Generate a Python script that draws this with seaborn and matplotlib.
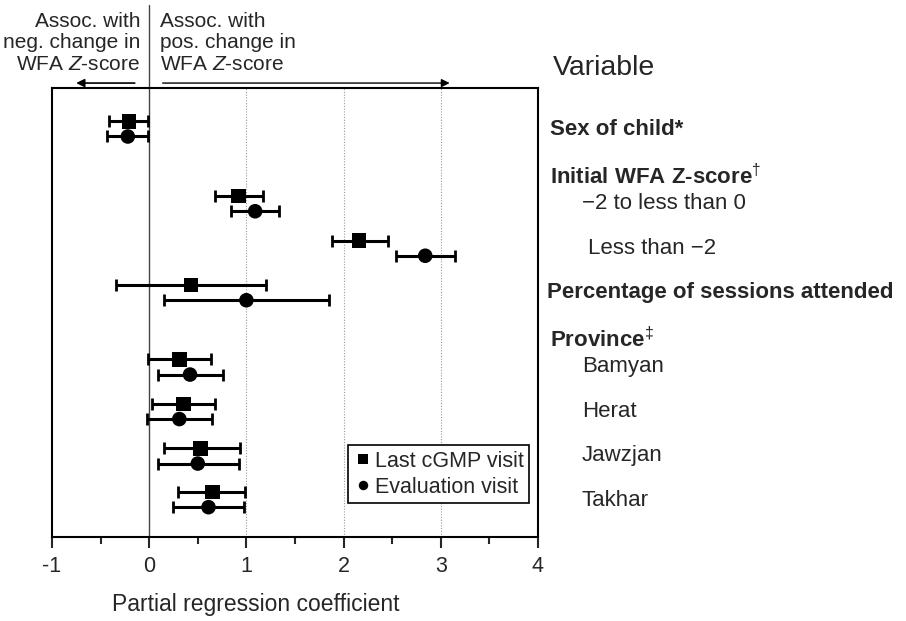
import pandas as pd
import seaborn as sns
import matplotlib
matplotlib.use('Agg')
from matplotlib import pyplot as plt
from matplotlib import transforms

# values
variables = ["Sex of child", "-2 to less than 0", "Less than -2", "Percentage of sessions attended",
             "Bamyan", "Herat", "Jawzjan", "Takhar"]
last_coef = [-0.21, 0.92, 2.16, 0.43, 0.31, 0.35, 0.53, 0.65]
last_lo = [-0.41, 0.68, 1.88, -0.34, -0.01, 0.03, 0.15, 0.30]
last_hi = [-0.01, 1.17, 2.46, 1.20, 0.64, 0.68, 0.93, 0.99]
eval_coef = [-0.22, 1.09, 2.84, 1.00, 0.42, 0.31, 0.50, 0.61]
eval_lo = [-0.43, 0.84, 2.54, 0.15, 0.09, -0.02, 0.09, 0.25]
eval_hi = [-0.01, 1.34, 3.15, 1.85, 0.76, 0.65, 0.92, 0.98]
visits = ["Last cGMP visit", "Evaluation visit"]

# row layout (vertical slots, top = 0)
row_pos = [0.92, 2.6, 3.6, 4.6, 6.27, 7.27, 8.27, 9.25]
offset = {"Last cGMP visit": -0.17, "Evaluation visit": 0.17}

rows = []
for v, coef, lo, hi in [(visits[0], last_coef, last_lo, last_hi), (visits[1], eval_coef, eval_lo, eval_hi)]:
    for i, name in enumerate(variables):
        rows.append({"variable": name, "visit": v, "coef": coef[i], "lo": lo[i], "hi": hi[i],
                     "ypos": row_pos[i] + offset[v]})
df = pd.DataFrame(rows)

sns.set_style("ticks")
plt.rcParams['font.family'] = ['Liberation Sans', 'DejaVu Sans']
plt.rcParams['mathtext.fontset'] = 'custom'
plt.rcParams['mathtext.rm'] = 'Liberation Sans'
plt.rcParams['mathtext.it'] = 'Liberation Sans:italic'
plt.rcParams['mathtext.bf'] = 'Liberation Sans:bold'

fig = plt.figure(figsize=(9.06, 6.21), dpi=100)
ax = fig.add_axes([0.0574, 0.1353, 0.5364, 0.723])

# reference lines
for gx in [1, 2, 3]:
    ax.axvline(gx, color='#999999', lw=0.8, ls=(0, (1, 1.5)), zorder=0)
trans = transforms.blended_transform_factory(ax.transData, ax.transAxes)
ax.plot([0, 0], [0, 1.185], transform=trans, color='#444444', lw=1.0, clip_on=False, zorder=1)

# error bars
ax.errorbar(df["coef"], df["ypos"], xerr=[df["coef"] - df["lo"], df["hi"] - df["coef"]],
            fmt='none', ecolor='black', elinewidth=2.2, capsize=4.5, capthick=2.0, zorder=2)

sns.scatterplot(data=df, x="coef", y="ypos", style="visit", markers={visits[0]: 's', visits[1]: 'o'},
                color='black', s=110, linewidth=0, ax=ax, zorder=3)

ax.set_xlim(-1, 4)
ax.set_ylim(10.09, 0)
ax.set_xticks([-1, 0, 1, 2, 3, 4])
ax.set_xticks([-0.5, 0.5, 1.5, 2.5, 3.5], minor=True)
ax.set_xticklabels(["-1", "0", "1", "2", "3", "4"], fontsize=15.5)
ax.set_yticks([])
ax.set_ylabel("")
ax.set_xlabel("Partial regression coefficient", fontsize=16.5, labelpad=14)
ax.xaxis.set_label_coords(0.42, -0.125)
ax.tick_params(axis='x', which='major', direction='out', length=8, width=1.5, pad=6)
ax.tick_params(axis='x', which='minor', direction='out', length=5, width=1.5)
for sp in ax.spines.values():
    sp.set_visible(True)
    sp.set_linewidth(1.5)
    sp.set_color('black')

# legend
handles, labels = ax.get_legend_handles_labels()
leg = ax.legend(handles, labels, loc='lower right', bbox_to_anchor=(0.982, 0.075), borderaxespad=0,
                fontsize=15.5, markerscale=0.65, handletextpad=0.1, handlelength=0.9,
                fancybox=False, framealpha=1, edgecolor='black', borderpad=0.25, labelspacing=0.25)
leg.get_frame().set_linewidth(1.2)

# right-hand variable labels
lab = transforms.blended_transform_factory(ax.transAxes, ax.transData)
px = 1 / 486.0
ax.text(1 + 15 * px, -0.45, "Variable", transform=lab, fontsize=20.5, va='center', ha='left')
right_labels = [
    ("Sex of child*", 0.94, 12, 'bold'),
    ("Initial WFA Z-score$^{\\dagger}$", 1.99, 12, 'bold'),
    ("\u22122 to less than 0", 2.6, 44, 'normal'),
    ("Less than \u22122", 3.6, 50, 'normal'),
    ("Percentage of sessions attended", 4.6, 9, 'bold'),
    ("Province$^{\\ddagger}$", 5.66, 12, 'bold'),
    ("Bamyan", 6.25, 44, 'normal'),
    ("Herat", 7.26, 44, 'normal'),
    ("Jawzjan", 8.27, 44, 'normal'),
    ("Takhar", 9.26, 44, 'normal'),
]
for txt, yy, dx, wt in right_labels:
    ax.text(1 + dx * px, yy, txt, transform=lab, fontsize=16, fontweight=wt, va='center', ha='left')

# direction annotations above the plot
ax.text(-0.09, 1.041, "Assoc. with\nneg. change in\nWFA $Z$-score", transform=trans, fontsize=15,
        ha='right', va='baseline', linespacing=1.15)
ax.text(0.11, 1.041, "Assoc. with\npos. change in\nWFA $Z$-score", transform=trans, fontsize=15,
        ha='left', va='baseline', linespacing=1.15)
ax.annotate("", xy=(-0.78, 1.011), xytext=(-0.12, 1.011), xycoords=trans, textcoords=trans,
            arrowprops=dict(arrowstyle='-|>', color='black', lw=1.2, mutation_scale=12))
ax.annotate("", xy=(3.12, 1.011), xytext=(0.11, 1.011), xycoords=trans, textcoords=trans,
            arrowprops=dict(arrowstyle='-|>', color='black', lw=1.0, mutation_scale=12))

plt.savefig("out.png", dpi=100)
